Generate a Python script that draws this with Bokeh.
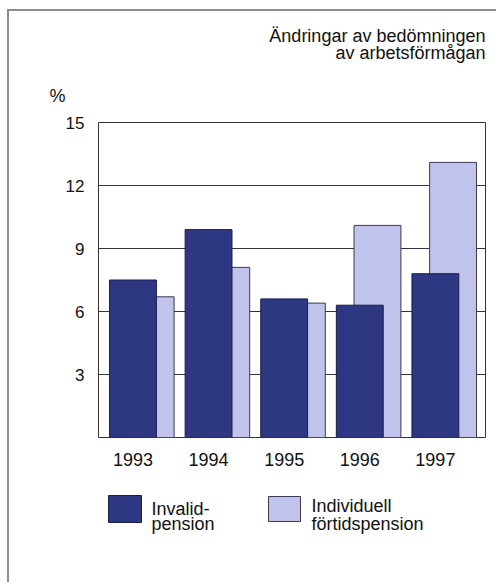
from bokeh.plotting import figure
from bokeh.models import Range1d, FixedTicker, Title, ColumnDataSource
from bokeh.layouts import column
from bokeh.core.properties import value
from bokeh.embed import file_html
from bokeh.resources import INLINE

# ---- data ----
years = ["1993", "1994", "1995", "1996", "1997"]
invalidpension = [7.5, 9.9, 6.6, 6.3, 7.8]
fortidspension = [6.7, 8.1, 6.4, 10.1, 13.1]
y_ticks = [3, 6, 9, 12, 15]
title_lines = ["Ändringar av bedömningen", "av arbetsförmågan"]
unit_label = "%"
series_names = ["Invalid-\npension", "Individuell\nförtidspension"]

DARK = "#2e3782"
LIGHT = "#c0c3ec"
FONT = "Liberation Sans"
TXT = "#111111"
W = 487
ML, MR = 89, W - 89 - 387

# ---- header with the title lines (frame aligned with chart frame) ----
hd = figure(width=W, height=56, output_backend="svg", toolbar_location=None,
            x_range=Range1d(0, 387), y_range=Range1d(56, 0),
            min_border_left=ML, min_border_right=MR, min_border_top=0,
            min_border_bottom=0, outline_line_color=None)
hd.axis.visible = False
hd.grid.visible = False
hd.border_fill_color = "white"
hsrc = ColumnDataSource(dict(tx=[387, 387], ty=[24, 41.5], t=title_lines))
hd.text(x="tx", y="ty", text="t", source=hsrc, text_font=value(FONT),
        text_font_size="18px", text_baseline="alphabetic", text_align="right",
        text_color=TXT)

# ---- main chart ----
xs = list(range(len(years)))
src = ColumnDataSource(dict(
    x=xs,
    x2=[x + 0.234 for x in xs],
    inv=invalidpension,
    ftp=fortidspension,
))

p = figure(width=W, height=421, output_backend="svg", toolbar_location=None,
           x_range=Range1d(-0.456, 4.663), y_range=Range1d(0, 15),
           min_border_left=ML, min_border_right=MR, min_border_top=55,
           min_border_bottom=51, title=None)
p.background_fill_color = "white"
p.border_fill_color = "white"
p.outline_line_color = "#333333"
p.outline_line_width = 1

# light bars behind, dark bars in front
p.vbar(x="x2", top="ftp", width=0.62, bottom=0, source=src,
       fill_color=LIGHT, line_color="#3a3a4a", line_width=1)
p.vbar(x="x", top="inv", width=0.62, bottom=0, source=src,
       fill_color=DARK, line_color="#1a1f4a", line_width=1)

# axes
p.xaxis.ticker = FixedTicker(ticks=xs)
p.xaxis.major_label_overrides = {i: y for i, y in enumerate(years)}
p.yaxis.ticker = FixedTicker(ticks=y_ticks)
for ax in (p.xaxis[0], p.yaxis[0]):
    ax.axis_line_color = None
    ax.major_tick_line_color = None
    ax.minor_tick_line_color = None
    ax.major_tick_in = 0
    ax.major_tick_out = 0
    ax.major_label_text_font = FONT
    ax.major_label_text_color = TXT
p.xaxis.major_label_text_font_size = "18px"
p.xaxis.major_label_standoff = 15
p.yaxis.major_label_text_font_size = "17px"
p.yaxis.major_label_standoff = 14
p.yaxis.major_label_text_baseline = "top"

p.xgrid.grid_line_color = None
p.ygrid.ticker = FixedTicker(ticks=y_ticks[:-1])
p.ygrid.grid_line_color = "#333344"
p.ygrid.grid_line_width = 1

# unit label above the y axis
p.add_layout(Title(text=unit_label, align="left", offset=-49, standoff=30,
                   vertical_align="top",
                   text_font=FONT, text_font_size="18px",
                   text_font_style="normal", text_color=TXT), "above")

# ---- legend (frame aligned with the chart frame) ----
lg = figure(width=W, height=94, output_backend="svg", toolbar_location=None,
            x_range=Range1d(0, 387), y_range=Range1d(94, 0),
            min_border_left=ML, min_border_right=MR, min_border_top=0,
            min_border_bottom=0, outline_line_color=None)
lg.axis.visible = False
lg.grid.visible = False
lg.border_fill_color = "white"

leg = ColumnDataSource(dict(
    bx=[26.5, 186], by=[20.5, 20.5], bw=[33, 32], bh=[27, 25],
    fill=[DARK, LIGHT], line=["#1a1f4a", "#3a3a4a"],
))
lg.rect(x="bx", y="by", width="bw", height="bh", source=leg,
        fill_color="fill", line_color="line", line_width=1)

txt = ColumnDataSource(dict(
    tx=[53, 53, 213, 213],
    ty=[20, 35, 17.5, 35],
    t=series_names[0].split("\n") + series_names[1].split("\n"),
))
lg.text(x="tx", y="ty", text="t", source=txt, text_font=value(FONT),
        text_font_size="18px", text_baseline="alphabetic", text_align="left",
        text_color=TXT)

layout = column(hd, p, lg, spacing=0)
layout.styles = {"border-top": "2px solid #8c8c8c",
                 "border-left": "2px solid #8c8c8c",
                 "margin-left": "7px", "margin-top": "9px"}

open("out.html", "w").write(file_html(layout, INLINE))
